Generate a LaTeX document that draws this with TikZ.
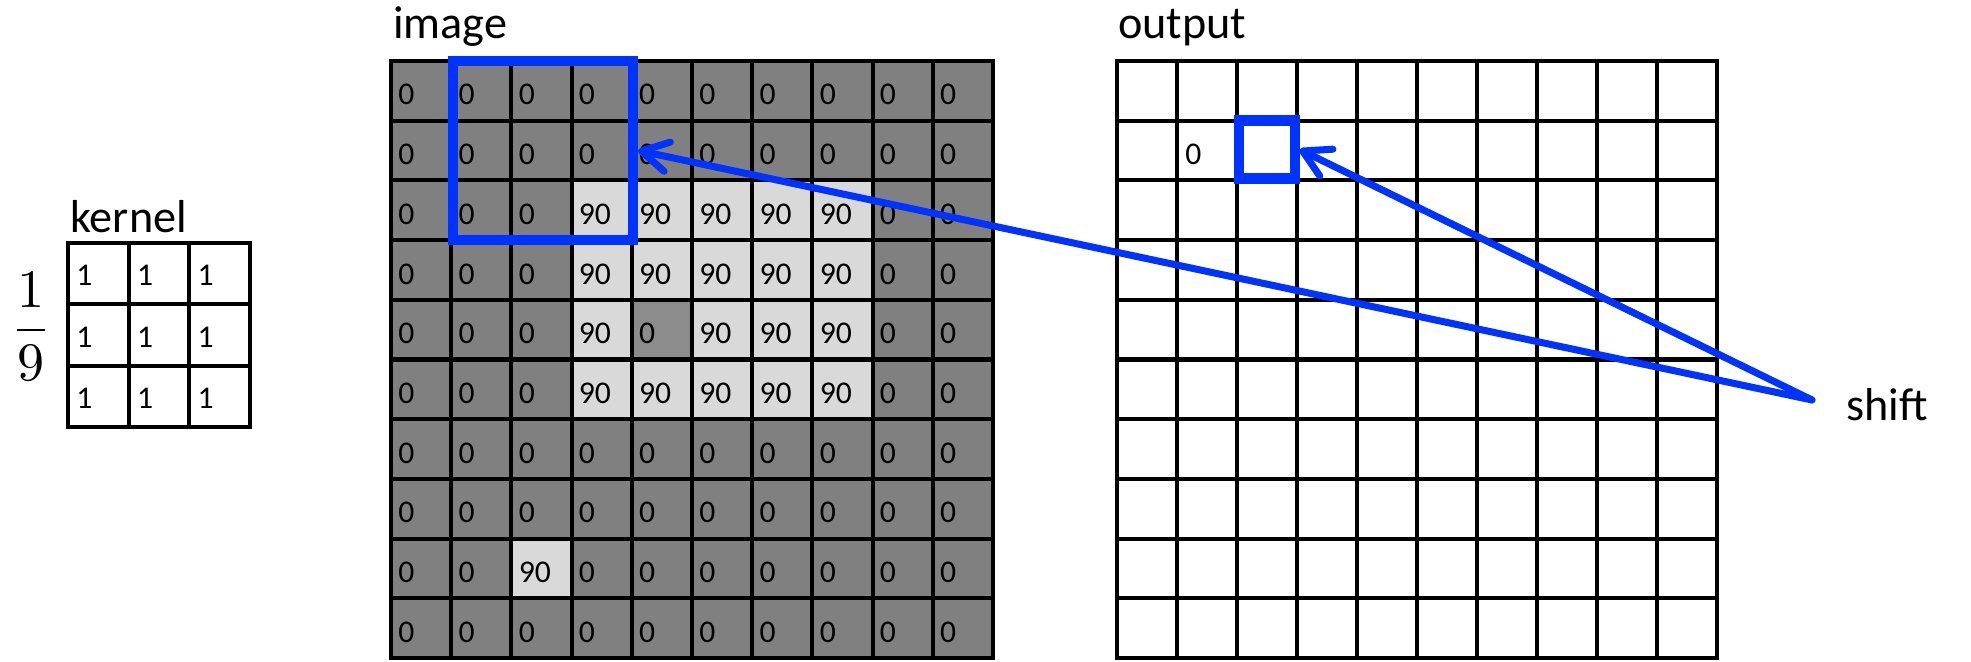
\documentclass[tikz,border=0pt]{standalone}
\usepackage[no-math]{fontspec}
\setmainfont{Carlito}
\usetikzlibrary{arrows.meta}
\definecolor{cellDark}{HTML}{808080}
\definecolor{cellLight}{HTML}{D9D9D9}
\definecolor{cellMid}{HTML}{8C8C8C}
\definecolor{winBlue}{HTML}{0033FF}
\tikzset{
  gridline/.style={line width=2.3pt, black, line cap=rect},
  num/.style={inner sep=0pt, anchor=base west, font=\fontsize{18}{21}\selectfont},
  lbl/.style={inner sep=0pt, anchor=base west, font=\fontsize{26.3}{30}\selectfont},
  winbox/.style={draw=winBlue, line width=5.7pt, inner sep=0pt, fill=none},
  shiftarrow/.style={draw=winBlue, line width=4pt, line cap=round,
    -{Straight Barb[length=15pt,width=17pt,round]}},
}
\begin{document}
\begin{tikzpicture}[x=0.02cm,y=-0.02cm]
\useasboundingbox (0,0) rectangle (1971,662);

% ---------- kernel ----------
\node[lbl] (kernelLbl) at (70,233) {kernel};
\foreach \r in {0,1,2}{
  \foreach \c in {0,1,2}{
    \node[num] (ker-\r-\c) at (68+60.67*\c+8, 243+61.33*\r+43) {1};
  }
}
\foreach \i in {0,...,3}{
  \draw[gridline] (68+60.67*\i,243) -- (68+60.67*\i,427);
  \draw[gridline] (68,243+61.33*\i) -- (250,243+61.33*\i);
}
\node[scale=3.08, inner sep=0pt] (frac) at (31,326.5) {$\displaystyle\frac{1}{9}$};

% ---------- image ----------
\node[lbl] (imageLbl) at (393,39) {image};
\foreach \r in {0,...,9}{
  \foreach \c in {0,...,9}{
    \pgfmathtruncatemacro\islight{((\r>=2 && \r<=5 && \c>=3 && \c<=7 && !(\r==4 && \c==4)) || (\r==8 && \c==2)) ? 1 : 0}
    \ifnum\islight=1
      \def\cellcol{cellLight}\def\cellval{90}%
    \else
      \def\cellcol{cellDark}\def\cellval{0}%
    \fi
    \ifnum\r=4 \ifnum\c=4 \def\cellcol{cellMid}\fi\fi
    \fill[\cellcol] (391+60.2*\c,61+59.7*\r) rectangle ++(60.2,59.7);
    \node[num] (img-\r-\c) at (391+60.2*\c+7, 61+59.7*\r+44) {\cellval};
  }
}
\foreach \i in {0,...,10}{
  \draw[gridline] (391+60.2*\i,61) -- (391+60.2*\i,658);
  \draw[gridline] (391,61+59.7*\i) -- (993,61+59.7*\i);
}

% ---------- output ----------
\node[lbl] (outputLbl) at (1118,39) {output};
\foreach \i in {0,...,10}{
  \draw[gridline] (1117+60*\i,61) -- (1117+60*\i,658);
  \draw[gridline] (1117,61+59.7*\i) -- (1717,61+59.7*\i);
}
\node[num] (out-1-1) at (1117+60+8, 61+59.7+44) {0};

% ---------- windows ----------
\node[winbox, minimum width=3.6cm, minimum height=3.58cm] (win) at (543,150.5) {};
\node[winbox, minimum width=1.12cm, minimum height=1.16cm] (ob) at (1266.5,149.5) {};

% ---------- shift ----------
\coordinate (sh) at (1812,400);
\node[lbl] (shiftLbl) at (1846,420) {shift};
\draw[shiftarrow] (sh) -- (win.east);
\draw[shiftarrow] (sh) -- (ob.east);
\end{tikzpicture}
\end{document}
